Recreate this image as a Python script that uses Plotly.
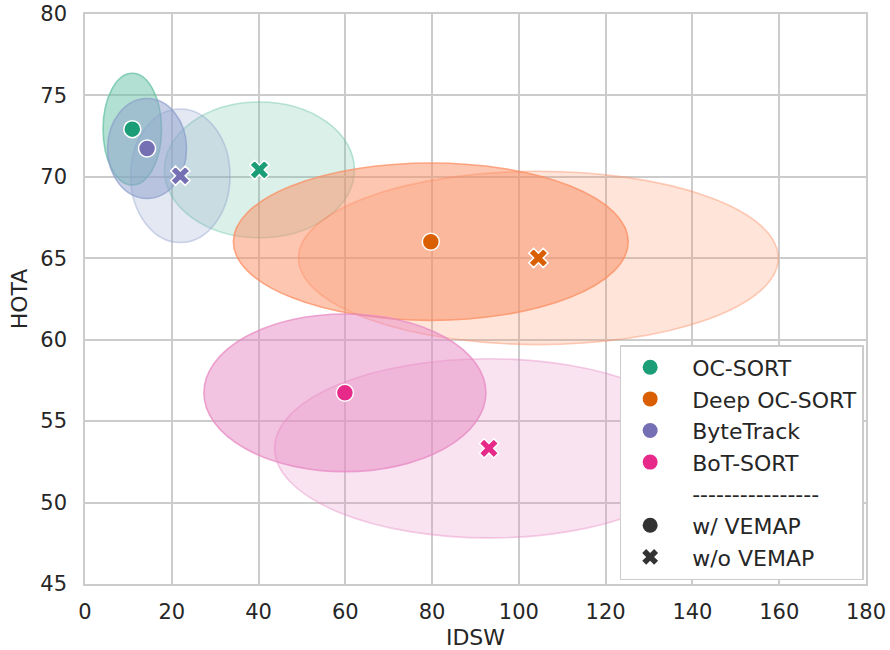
import plotly.graph_objects as go

# ---- data ----
trackers = ["OC-SORT", "Deep OC-SORT", "ByteTrack", "BoT-SORT"]
marker_colors = ["#1b9e77", "#d95f02", "#7570b3", "#e7298a"]   # Dark2
ellipse_colors = ["#66c2a5", "#fc8d62", "#8da0cb", "#e78ac3"]  # Set2

# w/ VEMAP (circle)
with_idsw = [10.9, 79.7, 14.3, 59.9]
with_hota = [72.93, 66.02, 71.74, 56.74]
with_idsw_spread = [6.73, 45.5, 9.1, 32.5]   # ellipse half-width
with_hota_spread = [3.43, 4.83, 3.07, 4.84]  # ellipse half-height

# w/o VEMAP (X)
wo_idsw = [40.2, 104.5, 21.97, 93.1]
wo_hota = [70.43, 65.02, 70.07, 53.33]
wo_idsw_spread = [21.9, 55.3, 11.45, 49.4]
wo_hota_spread = [4.17, 5.32, 4.10, 5.50]

x_ticks = [0, 20, 40, 60, 80, 100, 120, 140, 160, 180]
y_ticks = [45, 50, 55, 60, 65, 70, 75, 80]

FONT = "DejaVu Sans"
TXT = "#262626"
GRID = "#cccccc"


def rgba(hexc, a):
    h = hexc.lstrip("#")
    r, g, b = int(h[0:2], 16), int(h[2:4], 16), int(h[4:6], 16)
    return f"rgba({r},{g},{b},{a})"


fig = go.Figure()

shapes = []
for i in range(len(trackers)):
    for cx, cy, sx, sy, a in [
        (with_idsw[i], with_hota[i], with_idsw_spread[i], with_hota_spread[i], 0.5),
        (wo_idsw[i], wo_hota[i], wo_idsw_spread[i], wo_hota_spread[i], 0.24),
    ]:
        shapes.append(dict(
            type="circle", xref="x", yref="y",
            x0=cx - sx, x1=cx + sx, y0=cy - sy, y1=cy + sy,
            fillcolor=rgba(ellipse_colors[i], a),
            line=dict(color=rgba(ellipse_colors[i], round(1 - (1 - a) ** 2, 3)), width=1.6),
            layer="between",
        ))

# data markers
for i, t in enumerate(trackers):
    fig.add_trace(go.Scatter(
        x=[with_idsw[i]], y=[with_hota[i]], mode="markers", showlegend=False,
        marker=dict(symbol="circle", size=17, color=marker_colors[i],
                    line=dict(color="white", width=1.5)),
    ))
    fig.add_trace(go.Scatter(
        x=[wo_idsw[i]], y=[wo_hota[i]], mode="markers", showlegend=False,
        marker=dict(symbol="x", size=17, color=marker_colors[i],
                    line=dict(color="white", width=1.5)),
    ))

# legend entries
for i, t in enumerate(trackers):
    fig.add_trace(go.Scatter(
        x=[None], y=[None], mode="markers", name=t, legendgroup=f"g{i}",
        marker=dict(symbol="circle", size=15, color=marker_colors[i]),
    ))
fig.add_trace(go.Scatter(
    x=[None], y=[None], mode="markers", name="----------------", legendgroup="g4",
    marker=dict(symbol="circle", size=15, color="rgba(0,0,0,0)"),
))
fig.add_trace(go.Scatter(
    x=[None], y=[None], mode="markers", name="w/ VEMAP", legendgroup="g5",
    marker=dict(symbol="circle", size=15, color="#333333"),
))
fig.add_trace(go.Scatter(
    x=[None], y=[None], mode="markers", name="w/o VEMAP", legendgroup="g6",
    marker=dict(symbol="x", size=14, color="#333333"),
))

axis_common = dict(
    showgrid=True, gridcolor=GRID, gridwidth=1.5,
    showline=True, linecolor=GRID, linewidth=1.5, mirror=True,
    zeroline=False, ticks="", automargin=False,
    tickfont=dict(family=FONT, size=21, color=TXT),
)

fig.update_layout(
    width=890, height=650,
    margin=dict(l=85, r=24, t=14, b=66),
    paper_bgcolor="white", plot_bgcolor="white",
    font=dict(family=FONT, color=TXT),
    shapes=shapes,
    xaxis=dict(range=[0, 180], tickvals=x_ticks,
               title=dict(text="IDSW", font=dict(family=FONT, size=22, color=TXT), standoff=7),
               ticklabelstandoff=8, **axis_common),
    yaxis=dict(range=[45, 80], tickvals=y_ticks,
               title=dict(text="HOTA", font=dict(family=FONT, size=22, color=TXT), standoff=7),
               ticklabelstandoff=12, **axis_common),
    legend=dict(
        x=0.997, y=0.007, xanchor="right", yanchor="bottom",
        bgcolor="white", bordercolor=GRID, borderwidth=1.5,
        font=dict(family=FONT, size=22, color=TXT),
        itemsizing="trace", tracegroupgap=0,
        indentation=-13, itemwidth=74,
    ),
)

fig.write_html("out.html", config={"displayModeBar": False},
               post_script="document.body.style.margin='0px';")
